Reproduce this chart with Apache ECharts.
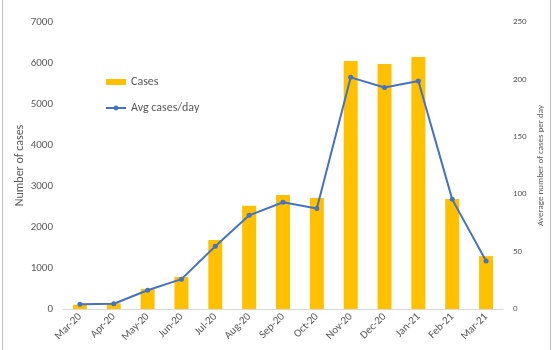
<!DOCTYPE html>
<html>
<head>
<meta charset="utf-8">
<script src="https://cdn.jsdelivr.net/npm/echarts@6/dist/echarts.min.js"></script>
<style>
  html, body { margin: 0; padding: 0; background: #fff; }
  #chart { width: 553px; height: 350px; }
</style>
</head>
<body>
<div id="chart"></div>
<script>
// months on the x axis
var months = ['Mar-20', 'Apr-20', 'May-20', 'Jun-20', 'Jul-20', 'Aug-20', 'Sep-20',
  'Oct-20', 'Nov-20', 'Dec-20', 'Jan-21', 'Feb-21', 'Mar-21'];
// monthly cases (left axis)
var cases = [100, 140, 490, 780, 1680, 2520, 2780, 2710, 6050, 5975, 6146, 2680, 1290];
// average cases per day (right axis)
var avgPerDay = [4.1, 4.6, 16.3, 26, 54.6, 81.6, 93, 87.5, 201.8, 193, 198.6, 95.5, 41.8];

var labelColor = '#595959';
var font = 'Calibri, Carlito, "Open Sans", sans-serif';

var myChart = echarts.init(document.getElementById('chart'));

var option = {
  animation: false,
  textStyle: { fontFamily: font },
  grid: { left: 63, right: 50, top: 22, bottom: 41, outerBoundsMode: 'none' },
  legend: {
    orient: 'vertical',
    left: 100,
    top: 71,
    itemWidth: 20,
    itemHeight: 6,
    itemGap: 14,
    textStyle: { color: labelColor, fontSize: 12, fontFamily: font },
    data: [
      { name: 'Cases', icon: 'rect' },
      { name: 'Avg cases/day' }
    ]
  },
  xAxis: {
    type: 'category',
    data: months,
    axisLine: { lineStyle: { color: '#d9d9d9' } },
    axisTick: { show: false },
    axisLabel: { color: labelColor, fontSize: 11, rotate: 45, margin: 6, interval: 0 }
  },
  yAxis: [
    {
      type: 'value',
      min: 0,
      max: 7000,
      interval: 1000,
      name: 'Number of cases',
      nameLocation: 'middle',
      nameGap: 37,
      nameMoveOverlap: false,
      nameTextStyle: { color: labelColor, fontSize: 12, fontFamily: font },
      axisLine: { show: false },
      axisTick: { show: false },
      splitLine: { show: false },
      axisLabel: { color: labelColor, fontSize: 11, margin: 10, formatter: function (v) { return String(v); } }
    },
    {
      type: 'value',
      min: 0,
      max: 250,
      interval: 50,
      name: 'Average number of cases per day',
      nameLocation: 'middle',
      nameGap: 33,
      nameMoveOverlap: false,
      nameTextStyle: { color: labelColor, fontSize: 9, fontFamily: font },
      axisLine: { show: false },
      axisTick: { show: false },
      splitLine: { show: false },
      axisLabel: { color: labelColor, fontSize: 9, margin: 10 }
    }
  ],
  graphic: [
    { type: 'line', shape: { x1: 2.5, y1: 0, x2: 2.5, y2: 350 }, style: { stroke: '#bfbfbf', lineWidth: 1 } },
    { type: 'line', shape: { x1: 550.5, y1: 0, x2: 550.5, y2: 350 }, style: { stroke: '#bfbfbf', lineWidth: 1 } }
  ],
  series: [
    {
      name: 'Cases',
      type: 'bar',
      yAxisIndex: 0,
      barWidth: 14,
      itemStyle: { color: '#FFC000' },
      data: cases
    },
    {
      name: 'Avg cases/day',
      type: 'line',
      yAxisIndex: 1,
      symbol: 'circle',
      symbolSize: 5,
      lineStyle: { color: '#4472C4', width: 2 },
      itemStyle: { color: '#4472C4' },
      data: avgPerDay
    }
  ]
};

myChart.setOption(option);
</script>
</body>
</html>
